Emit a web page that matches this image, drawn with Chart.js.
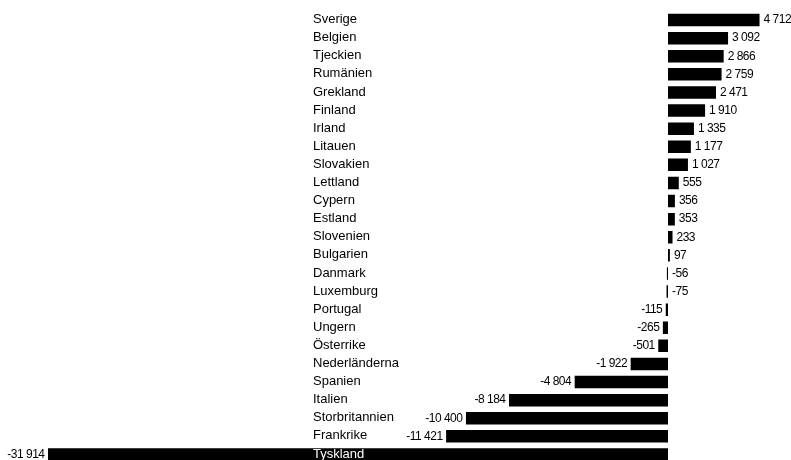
<!DOCTYPE html>
<html>
<head>
<meta charset="utf-8">
<script src="https://cdn.jsdelivr.net/npm/chart.js@4/dist/chart.umd.min.js"></script>
<style>
html,body{margin:0;padding:0;background:#fff;overflow:hidden;}
canvas{display:block;}
</style>
</head>
<body>
<canvas id="c" width="791" height="465"></canvas>
<script>
const categories = ["Sverige","Belgien","Tjeckien","Rumänien","Grekland","Finland","Irland","Litauen","Slovakien","Lettland","Cypern","Estland","Slovenien","Bulgarien","Danmark","Luxemburg","Portugal","Ungern","Österrike","Nederländerna","Spanien","Italien","Storbritannien","Frankrike","Tyskland"];
const values = [4712,3092,2866,2759,2471,1910,1335,1177,1027,555,356,353,233,97,-56,-75,-115,-265,-501,-1922,-4804,-8184,-10400,-11421,-31914];
const axisMin = -31914;
const axisMax = 6280;

function fmt(v){
  const s = Math.abs(v).toString().replace(/\B(?=(\d{3})+(?!\d))/g, " ");
  return (v < 0 ? "-" : "") + s;
}

const labelsPlugin = {
  id: 'labelsPlugin',
  afterDatasetsDraw(chart){
    const ctx = chart.ctx;
    const meta = chart.getDatasetMeta(0);
    const yScale = chart.scales.y;
    const xScale = chart.scales.x;
    const zeroX = xScale.getPixelForValue(0);
    ctx.save();
    ctx.textBaseline = 'middle';
    // category labels
    ctx.font = '13px "Liberation Sans", Arial, sans-serif';
    ctx.textAlign = 'left';
    categories.forEach((name, i) => {
      ctx.fillStyle = (i === categories.length - 1) ? '#fff' : '#000';
      ctx.fillText(name, chart.chartArea.left + 265, yScale.getPixelForValue(i) - 0.5);
    });
    // value labels
    ctx.font = '12px "Liberation Sans", Arial, sans-serif';
    try { ctx.letterSpacing = '-0.5px'; } catch(e) {}
    ctx.fillStyle = '#000';
    meta.data.forEach((bar, i) => {
      const v = values[i];
      if (v >= -100) {
        ctx.textAlign = 'left';
        ctx.fillText(fmt(v), Math.max(bar.x, zeroX) + 4, bar.y);
      } else {
        ctx.textAlign = 'right';
        ctx.fillText(fmt(v), bar.x - 3.5, bar.y);
      }
    });
    ctx.restore();
  }
};

new Chart(document.getElementById('c'), {
  type: 'bar',
  data: {
    labels: categories,
    datasets: [{
      data: values,
      backgroundColor: '#000',
      borderWidth: 0,
      categoryPercentage: 1,
      barPercentage: 0.69
    }]
  },
  options: {
    indexAxis: 'y',
    responsive: false,
    animation: false,
    devicePixelRatio: 1,
    layout: { padding: { left: 48, right: 1, top: 11, bottom: 1.5 } },
    plugins: { legend: { display: false }, tooltip: { enabled: false } },
    scales: {
      x: { display: false, min: axisMin, max: axisMax },
      y: { display: false }
    }
  },
  plugins: [labelsPlugin]
});
</script>
</body>
</html>
